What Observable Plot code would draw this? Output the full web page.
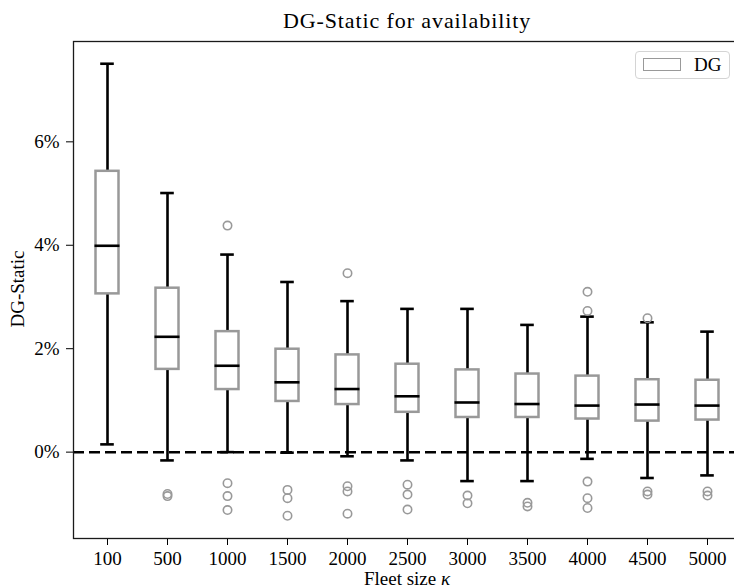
<!DOCTYPE html>
<html>
<head>
<meta charset="utf-8">
<script src="https://cdn.jsdelivr.net/npm/d3@7"></script>
<script src="https://cdn.jsdelivr.net/npm/@observablehq/plot@0.6"></script>
<style>
  html, body { margin: 0; padding: 0; background: #fff; overflow: hidden; width: 734px; height: 588px; }
  #wrap { position: relative; width: 741px; height: 600px; font-family: "Liberation Serif", serif; color: #000; }
  #title { position: absolute; left: 73px; width: 668px; top: 10px; text-align: center; font-size: 22px; line-height: 22px; letter-spacing: 0.9px; }
  #xlabel { position: absolute; left: 73px; width: 668px; top: 571px; height: 16px; text-align: center; font-size: 19px; line-height: 16px; }
  #legend { position: absolute; left: 635px; top: 51px; width: 95px; height: 28px; box-sizing: border-box; border: 1px solid #d4d4d4; border-radius: 4px; background: #fff; }
  #legend .patch { position: absolute; left: 7px; top: 6px; width: 38px; height: 13px; box-sizing: border-box; border: 1.3px solid #999; background: #fff; }
  #legend .lab { position: absolute; left: 58px; top: 3px; font-size: 19px; line-height: 19px; }
</style>
</head>
<body>
<div id="wrap">
  <div id="title">DG-Static for availability</div>
  <div id="xlabel">Fleet size <i>κ</i></div>
  <div id="legend"><div class="patch"></div><div class="lab">DG</div></div>
</div>
<script>
// Fleet sizes (categories)
const sizes = ["100", "500", "1000", "1500", "2000", "2500", "3000", "3500", "4000", "4500", "5000"];
// Box statistics (in %)
const whiskerLow = [0.15, -0.16, 0.00, -0.01, -0.08, -0.16, -0.56, -0.56, -0.13, -0.50, -0.45];
const q1         = [3.06, 1.60, 1.21, 0.98, 0.92, 0.77, 0.67, 0.67, 0.64, 0.60, 0.62];
const medians    = [3.99, 2.23, 1.67, 1.35, 1.22, 1.08, 0.96, 0.93, 0.90, 0.92, 0.90];
const q3         = [5.43, 3.17, 2.33, 1.99, 1.88, 1.70, 1.59, 1.51, 1.47, 1.40, 1.39];
const whiskerHigh= [7.51, 5.01, 3.82, 3.29, 2.92, 2.77, 2.77, 2.46, 2.62, 2.51, 2.33];
// Outliers per fleet size (in %)
const outliers = [
  [],
  [-0.81, -0.85],
  [4.38, -0.60, -0.85, -1.12],
  [-0.73, -0.89, -1.23],
  [3.46, -0.66, -0.76, -1.19],
  [-0.63, -0.82, -1.11],
  [-0.84, -0.99],
  [-0.98, -1.05],
  [3.10, 2.73, -0.57, -0.89, -1.08],
  [2.59, -0.76, -0.82],
  [-0.76, -0.84]
];
const yTicks = [0, 2, 4, 6];
const yDomain = [-1.67, 7.94];
const refLine = [0];

const boxes = sizes.map((s, i) => ({size: s, lo: whiskerLow[i], q1: q1[i], med: medians[i], q3: q3[i], hi: whiskerHigh[i]}));
const outlierRows = sizes.flatMap((s, i) => outliers[i].map(v => ({size: s, v})));

const gray = "#999999";
const chart = Plot.plot({
  width: 741,
  height: 600,
  marginLeft: 73,
  marginRight: 1,
  marginTop: 41,
  marginBottom: 62,
  style: {fontFamily: "'Liberation Serif', serif", fontSize: "19px", color: "#000", background: "transparent", overflow: "hidden"},
  x: {type: "band", domain: sizes, padding: 0, label: null, tickSize: 7, tickPadding: 6},
  y: {domain: yDomain, ticks: yTicks, tickFormat: d => d + "%", label: null, tickSize: 7, tickPadding: 7},
  marks: [
    Plot.ruleX(boxes, {x: "size", y1: "q3", y2: "hi", stroke: "#000", strokeWidth: 2.6}),
    Plot.ruleX(boxes, {x: "size", y1: "lo", y2: "q1", stroke: "#000", strokeWidth: 2.6}),
    Plot.tickY(boxes, {x: "size", y: "hi", stroke: "#000", strokeWidth: 2.6, insetLeft: 23.2, insetRight: 23.2}),
    Plot.tickY(boxes, {x: "size", y: "lo", stroke: "#000", strokeWidth: 2.6, insetLeft: 23.2, insetRight: 23.2}),
    Plot.barY(boxes, {x: "size", y1: "q1", y2: "q3", fill: "#fff", stroke: gray, strokeWidth: 2.5, insetLeft: 18.5, insetRight: 18.5}),
    Plot.tickY(boxes, {x: "size", y: "med", stroke: "#000", strokeWidth: 2.6, insetLeft: 17.5, insetRight: 17.5}),
    Plot.ruleY(refLine, {y: d => d, stroke: "#000", strokeWidth: 2.5, strokeDasharray: "11,5"}),
    Plot.dot(outlierRows, {x: "size", y: "v", r: 4.2, stroke: gray, fill: "none", strokeWidth: 1.6}),
    Plot.frame({stroke: "#1a1a1a", strokeWidth: 1.3})
  ]
});
const wrap = document.getElementById("wrap");
wrap.insertBefore(chart, wrap.firstChild);

// y axis label
const yl = document.createElement("div");
yl.textContent = "DG-Static";
Object.assign(yl.style, {position: "absolute", left: "17px", top: "289px", fontSize: "19px", lineHeight: "19px", whiteSpace: "nowrap", transform: "translate(-50%,-50%) rotate(-90deg)"});
wrap.appendChild(yl);
</script>
</body>
</html>
